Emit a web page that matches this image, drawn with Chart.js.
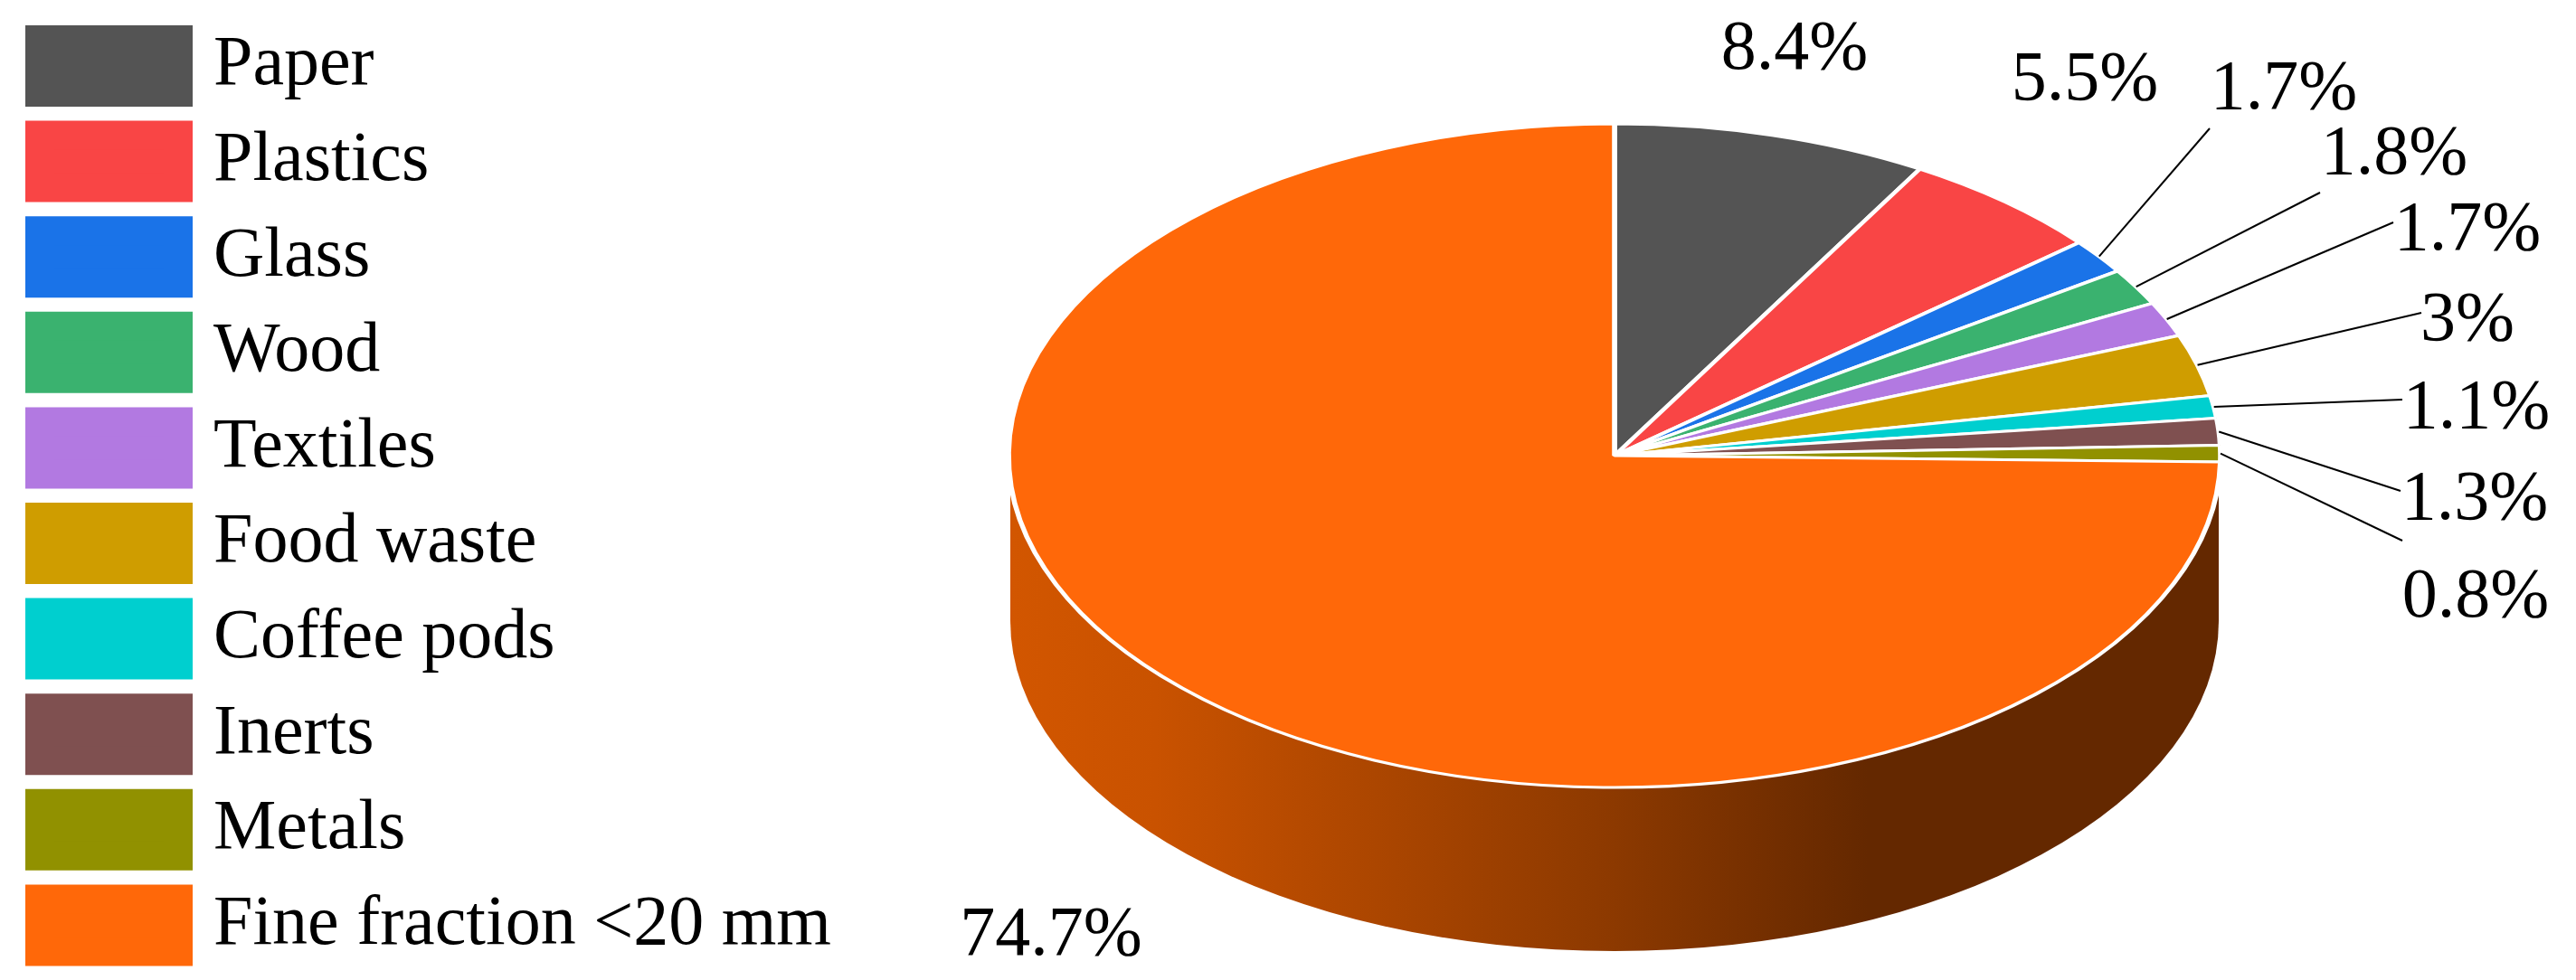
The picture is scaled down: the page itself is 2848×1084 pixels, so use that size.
<!DOCTYPE html>
<html>
<head>
<meta charset="utf-8">
<title>Waste composition</title>
<script src="https://cdn.jsdelivr.net/npm/chart.js@4"></script>
<style>
  html, body { margin: 0; padding: 0; background: #fff; }
  canvas { display: block; }
</style>
</head>
<body>
<canvas id="wastePie" width="2848" height="1084"></canvas>
<script>
const categories = ['Paper', 'Plastics', 'Glass', 'Wood', 'Textiles', 'Food waste', 'Coffee pods', 'Inerts', 'Metals', 'Fine fraction <20 mm'];
const shares = [8.4, 5.5, 1.7, 1.8, 1.7, 3, 1.1, 1.3, 0.8, 74.7];
const shareLabels = ['8.4%', '5.5%', '1.7%', '1.8%', '1.7%', '3%', '1.1%', '1.3%', '0.8%', '74.7%'];
const sliceColors = ['#545454', '#F94545', '#1A73E8', '#3AB26F', '#B279E1', '#CF9D00', '#00CFCF', '#7F5050', '#919100', '#FF6809'];

// where the pie ends up on the page (the circle from Chart.js gets squashed to this)
const PIE = { cx: 1785, cy: 504, rx: 670, ry: 367, wallRx: 668, wallRy: 365, depth: 183 };

// label centre x / baseline y, same order as categories
const labelX = [1984, 2305, 2525, 2647, 2728, 2728, 2738, 2736, 2737, 1162];
const labelY = [76, 110, 120, 192, 276, 376, 473, 574, 682, 1056];
// outer end of the leader line, null = no leader
const leaderEnds = [null, null, [2443, 142], [2565, 213], [2646, 246], [2677, 346], [2656, 442], [2654, 543], [2656, 598], null];

const SERIF = '"Liberation Serif", serif';

const squashPlugin = {
  id: 'squash',
  afterLayout(chart) {
    // legend needs the full canvas height to stay in one column, so nudge it after fitting
    chart.legend.top = 6.4;
    chart.legend.bottom = chart.height + 100;
  },
  beforeDatasetsDraw(chart) {
    const ctx = chart.ctx;
    const arc = chart.getDatasetMeta(0).data[0];

    // side wall of the cylinder
    const grad = ctx.createLinearGradient(PIE.cx - PIE.wallRx, 0, PIE.cx + PIE.wallRx, 0);
    grad.addColorStop(0, '#D25600');
    grad.addColorStop(0.12, '#C95200');
    grad.addColorStop(0.5, '#8C3900');
    grad.addColorStop(0.71, '#642800');
    grad.addColorStop(1, '#642800');
    ctx.save();
    ctx.fillStyle = grad;
    ctx.beginPath();
    ctx.moveTo(PIE.cx - PIE.wallRx, PIE.cy);
    ctx.lineTo(PIE.cx - PIE.wallRx, PIE.cy + PIE.depth);
    ctx.ellipse(PIE.cx, PIE.cy + PIE.depth, PIE.wallRx, PIE.wallRy, 0, Math.PI, 0, true);
    ctx.lineTo(PIE.cx + PIE.wallRx, PIE.cy);
    ctx.closePath();
    ctx.fill();
    ctx.restore();

    ctx.save();
    ctx.translate(PIE.cx, PIE.cy);
    ctx.scale(PIE.rx / arc.outerRadius, PIE.ry / arc.outerRadius);
    ctx.translate(-arc.x, -arc.y);
  },
  afterDatasetsDraw(chart) {
    chart.ctx.restore();
  }
};

const labelPlugin = {
  id: 'shareLabels',
  afterDraw(chart) {
    const ctx = chart.ctx;
    const arcs = chart.getDatasetMeta(0).data;
    ctx.save();
    ctx.strokeStyle = '#000';
    ctx.lineWidth = 2;
    ctx.fillStyle = '#000';
    ctx.font = '78px ' + SERIF;
    ctx.textAlign = 'center';
    ctx.textBaseline = 'alphabetic';
    arcs.forEach((arc, i) => {
      if (leaderEnds[i]) {
        const mid = (arc.startAngle + arc.endAngle) / 2;
        ctx.beginPath();
        ctx.moveTo(PIE.cx + PIE.rx * Math.cos(mid), PIE.cy + PIE.ry * Math.sin(mid));
        ctx.lineTo(leaderEnds[i][0], leaderEnds[i][1]);
        ctx.stroke();
      }
      ctx.fillText(shareLabels[i], labelX[i], labelY[i]);
    });
    ctx.restore();
  }
};

new Chart(document.getElementById('wastePie'), {
  type: 'pie',
  data: {
    labels: categories,
    datasets: [{
      data: shares,
      backgroundColor: sliceColors,
      borderColor: '#fff',
      borderWidth: 4.5,
      clip: false
    }]
  },
  options: {
    responsive: false,
    animation: false,
    events: [],
    layout: { padding: { left: 16.4 } },
    plugins: {
      tooltip: { enabled: false },
      legend: {
        position: 'left',
        align: 'start',
        labels: {
          // chart.js puts half a font size between box and text, too wide here:
          // a smaller box with a thick same-colour stroke closes that gap
          boxWidth: 153,
          boxHeight: 58,
          padding: 27.6,
          color: '#000',
          font: { family: SERIF, size: 78, lineHeight: 1 },
          generateLabels(chart) {
            return categories.map((name, i) => ({
              text: name,
              fillStyle: sliceColors[i],
              strokeStyle: sliceColors[i],
              lineWidth: 32,
              lineJoin: 'miter',
              index: i
            }));
          }
        }
      }
    }
  },
  plugins: [squashPlugin, labelPlugin]
});
</script>
</body>
</html>
